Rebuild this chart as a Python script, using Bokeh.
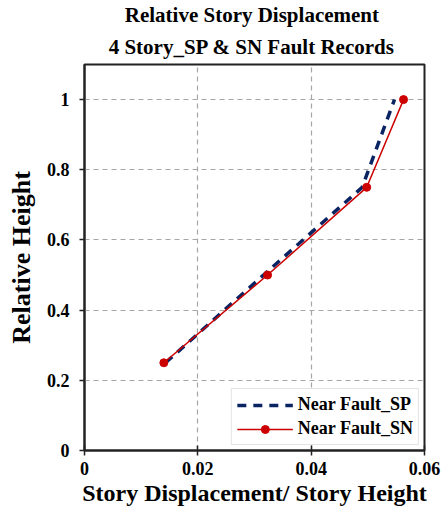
from bokeh.plotting import figure
from bokeh.models import Title, Legend, LegendItem, FixedTicker, Range1d
from bokeh.embed import file_html
from bokeh.resources import INLINE

relative_height = [0.25, 0.5, 0.75, 1.0]
sp_drift = [0.0143, 0.0316, 0.0490, 0.0547]
sn_drift = [0.0140, 0.0323, 0.0498, 0.0563]
x_ticks = [0, 0.02, 0.04, 0.06]
x_tick_labels = ["0", "0.02", "0.04", "0.06"]
y_ticks = [0, 0.2, 0.4, 0.6, 0.8, 1.0]
y_tick_labels = ["0", "0.2", "0.4", "0.6", "0.8", "1"]

FONT = "Liberation Serif"

p = figure(width=445, height=515, output_backend="svg", toolbar_location=None,
           x_range=Range1d(0, 0.06), y_range=Range1d(0, 1.1),
           min_border_left=84, min_border_right=21, min_border_top=5, min_border_bottom=65)
p.background_fill_color = "white"
p.border_fill_color = "white"
p.outline_line_color = "#222222"
p.outline_line_width = 2

p.add_layout(Title(text="4 Story_SP & SN Fault  Records", align="center", text_font=FONT,
                   text_font_size="21px", text_font_style="bold", text_color="black",
                   standoff=12), "above")
p.add_layout(Title(text="Relative  Story Displacement", align="center", text_font=FONT,
                   text_font_size="21px", text_font_style="bold", text_color="black",
                   standoff=0), "above")

for g in (p.xgrid[0], p.ygrid[0]):
    g.grid_line_color = "#a6a6a6"
    g.grid_line_dash = "5 4"
    g.grid_line_width = 1.2

p.xaxis.ticker = FixedTicker(ticks=x_ticks)
p.yaxis.ticker = FixedTicker(ticks=y_ticks)
p.xaxis.major_label_overrides = {t: l for t, l in zip(x_ticks, x_tick_labels)}
p.yaxis.major_label_overrides = {t: l for t, l in zip(y_ticks, y_tick_labels)}

for ax in (p.xaxis[0], p.yaxis[0]):
    ax.axis_line_color = "#222222"
    ax.axis_line_width = 2
    ax.major_tick_line_color = "#222222"
    ax.major_tick_line_width = 1.5
    ax.minor_tick_line_color = None
    ax.major_label_text_font = FONT
    ax.major_label_text_font_style = "bold"
    ax.major_label_text_font_size = "18px"
    ax.major_label_text_color = "black"
    ax.axis_label_text_font = FONT
    ax.axis_label_text_font_style = "bold"
    ax.axis_label_text_color = "black"

p.xaxis.axis_label_text_font_size = "24px"
p.yaxis.axis_label_text_font_size = "26px"
p.xaxis.major_tick_in = 5
p.xaxis.major_tick_out = 5
p.yaxis.major_tick_in = 0
p.yaxis.major_tick_out = 5
p.xaxis.major_label_standoff = 6
p.yaxis.major_label_standoff = 10
p.xaxis.axis_label = "Story Displacement/ Story Height"
p.yaxis.axis_label = "Relative Height"
p.xaxis.axis_label_standoff = 2
p.yaxis.axis_label_standoff = 8

sp = p.line(sp_drift, relative_height, line_color="#0a2463", line_width=3.5, line_dash="9 7")
sn_line = p.line(sn_drift, relative_height, line_color="#cc0000", line_width=1.5)
sn_pts = p.scatter(sn_drift, relative_height, marker="circle", size=8,
                   fill_color="#cc0000", line_color="#cc0000")

legend = Legend(items=[LegendItem(label="Near Fault_SP", renderers=[sp]),
                       LegendItem(label="Near Fault_SN", renderers=[sn_line, sn_pts])],
                location="bottom_right")
legend.label_text_font = FONT
legend.label_text_font_style = "bold"
legend.label_text_font_size = "18px"
legend.label_text_color = "black"
legend.glyph_width = 56
legend.spacing = 3
legend.padding = 5
legend.margin = 5
legend.border_line_color = "#c8c8c8"
legend.border_line_width = 1.5
legend.background_fill_color = "white"
legend.background_fill_alpha = 1
p.add_layout(legend)

open("out.html", "w").write(file_html(p, INLINE))
